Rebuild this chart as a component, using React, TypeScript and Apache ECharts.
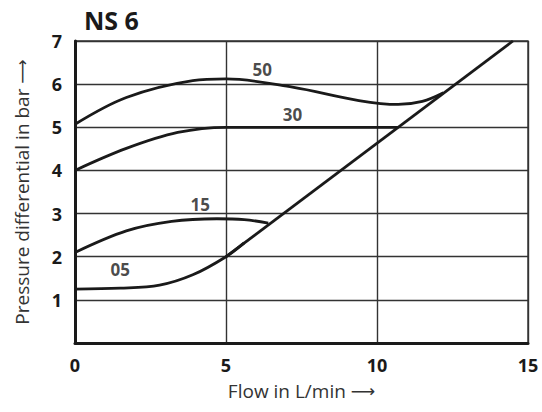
import React, { useEffect, useRef } from "react";
import * as echarts from "echarts";

const xTicks = [0, 5, 10, 15];
const yTicks = [0, 1, 2, 3, 4, 5, 6, 7];
const curve05: number[][] = [[0, 1.25], [1.5, 1.27], [2.8, 1.34], [3.9, 1.58], [5, 2], [5.6, 2.32]];
const curve15: number[][] = [[0, 2.1], [1.7, 2.6], [3.2, 2.82], [4.7, 2.88], [5.6, 2.86], [6.4, 2.78]];
const curve30: number[][] = [[0, 4], [1.7, 4.51], [3.4, 4.88], [5, 5], [7, 5], [9, 5], [10.7, 5]];
const curve50: number[][] = [[0, 5.07], [1.7, 5.69], [3.9, 6.08], [5, 6.12], [7.2, 5.93], [9.4, 5.62], [10.7, 5.53], [11.5, 5.6], [12.2, 5.8]];
const limitLine: number[][] = [[5, 2], [14.5, 7]];
const curveLabels = [
  { name: "05", x: 1.5, y: 1.7 },
  { name: "15", x: 4.15, y: 3.2 },
  { name: "30", x: 7.2, y: 5.3 },
  { name: "50", x: 6.2, y: 6.34 },
];

export default function App() {
  const ref = useRef<HTMLDivElement>(null);
  useEffect(() => {
    const chart = echarts.init(ref.current!, null, { renderer: "svg" });
    const lineStyle = { color: "#1a1a1a", width: 2.8 };
    const curveSeries = [curve05, curve15, curve30, curve50].map((d) => ({
      type: "line",
      data: d,
      smooth: 0.35,
      showSymbol: false,
      lineStyle,
      z: 3,
    }));
    const nameRich = {
      t: { fontFamily: "Open Sans", fontSize: 19, color: "#333" },
      a: { fontFamily: "DejaVu Sans", fontSize: 17, color: "#333" },
    };
    chart.setOption({
      animation: false,
      title: {
        text: "NS 6",
        left: 79,
        top: 2,
        textStyle: { fontFamily: "Open Sans", fontWeight: "bold", fontSize: 25, color: "#1a1a1a" },
      },
      grid: { left: 75, top: 41, right: 14, bottom: 69, show: true, borderColor: "#333", borderWidth: 1.4 },
      xAxis: {
        type: "value",
        min: 0,
        max: 15,
        interval: 5,
        name: "{t|Flow in L/min }{a|\u27F6}",
        nameLocation: "middle",
        nameGap: 38,
        nameTextStyle: { rich: nameRich },
        axisLine: { show: true, onZero: false, lineStyle: { color: "#1a1a1a", width: 3 } },
        axisTick: { show: false },
        axisLabel: {
          margin: 13,
          fontFamily: "Open Sans",
          fontWeight: "bold",
          fontSize: 18,
          color: "#1a1a1a",
          formatter: (v: number) => (xTicks.includes(v) ? String(v) : ""),
        },
        splitLine: { show: true, lineStyle: { color: "#333", width: 1.4 } },
      },
      yAxis: {
        type: "value",
        min: 0,
        max: 7,
        interval: 1,
        name: "{t|Pressure differential in bar }{a|\u27F6}",
        nameLocation: "middle",
        nameGap: 44,
        nameTextStyle: { rich: nameRich },
        axisLine: { show: true, onZero: false, lineStyle: { color: "#1a1a1a", width: 3 } },
        axisTick: { show: false },
        axisLabel: {
          margin: 13,
          fontFamily: "Open Sans",
          fontWeight: "bold",
          fontSize: 18,
          color: "#1a1a1a",
          formatter: (v: number) => (yTicks.includes(v) && v > 0 ? String(v) : ""),
        },
        splitLine: { show: true, lineStyle: { color: "#333", width: 1.4 } },
      },
      series: [
        ...curveSeries,
        {
          type: "line",
          data: limitLine,
          showSymbol: false,
          lineStyle,
          z: 3,
        },
        {
          type: "scatter",
          data: curveLabels.map((l) => ({ value: [l.x, l.y], name: l.name })),
          symbolSize: 0,
          label: {
            show: true,
            position: "inside",
            formatter: (p: any) => p.name,
            fontFamily: "Open Sans",
            fontWeight: "bold",
            fontSize: 17,
            color: "#1a1a1a",
          },
          z: 4,
        },
      ],
    });
    return () => chart.dispose();
  }, []);
  return <div ref={ref} style={{ width: 542, height: 412, position: "absolute", left: 0, top: 0 }} />;
}
